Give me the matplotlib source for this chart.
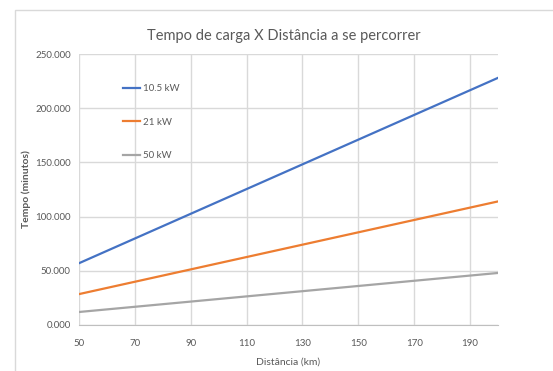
import numpy as np
import matplotlib
matplotlib.use("Agg")
import matplotlib.pyplot as plt
from matplotlib.ticker import FuncFormatter
from matplotlib.patches import Rectangle

# Dados (distância em km, tempo em minutos)
distancia = [50, 60, 70, 80, 90, 100, 110, 120, 130, 140, 150, 160, 170, 180, 190, 200]
t_10_5kw = [57.0, 68.4, 79.8, 91.2, 102.6, 114.0, 125.4, 136.8, 148.2, 159.6,
            171.0, 182.4, 193.8, 205.2, 216.6, 228.0]
t_21kw = [28.5, 34.2, 39.9, 45.6, 51.3, 57.0, 62.7, 68.4, 74.1, 79.8,
          85.5, 91.2, 96.9, 102.6, 108.3, 114.0]
t_50kw = [12.0, 14.4, 16.8, 19.2, 21.6, 24.0, 26.4, 28.8, 31.2, 33.6,
          36.0, 38.4, 40.8, 43.2, 45.6, 48.0]
x_ticks = [50, 70, 90, 110, 130, 150, 170, 190]
y_ticks = [0, 50, 100, 150, 200, 250]

plt.rcParams['font.family'] = ['Lato', 'DejaVu Sans']
cinza = '#595959'

fig = plt.figure(figsize=(5.53, 3.71), dpi=100)
# moldura do gráfico
fig.patches.append(Rectangle((15/553, -0.1), 1.2, 1 - 10/371 + 0.1, transform=fig.transFigure,
                             fill=False, edgecolor='#d9d9d9', linewidth=1))
ax = fig.add_axes([79/553, 1 - 325/371, (498 - 79)/553, (325 - 54)/371])

ax.plot(distancia, t_10_5kw, color='#4472c4', linewidth=1.6, label='10.5 kW')
ax.plot(distancia, t_21kw, color='#ed7d31', linewidth=1.6, label='21 kW')
ax.plot(distancia, t_50kw, color='#a5a5a5', linewidth=1.6, label='50 kW')

ax.set_xlim(50, 200)
ax.set_ylim(0, 250)
ax.set_xticks(x_ticks)
ax.set_yticks(y_ticks)
ax.yaxis.set_major_formatter(FuncFormatter(lambda v, p: f"{v:.3f}"))
ax.grid(True, color='#d9d9d9', linewidth=1)
ax.set_axisbelow(True)
for s in ['top', 'right', 'left']:
    ax.spines[s].set_visible(False)
ax.spines['bottom'].set_color('#bfbfbf')
ax.tick_params(length=0, labelsize=7, colors=cinza)
ax.tick_params(axis='x', pad=10)
ax.tick_params(axis='y', pad=6)

ax.set_xlabel('Distância (km)', fontsize=7.5, color=cinza, labelpad=7)
ax.set_ylabel('Tempo (minutos)', fontsize=7.5, color=cinza, fontweight='bold', labelpad=3)
ax.set_title('Tempo de carga X Distância a se percorrer', fontsize=10.5, color=cinza, pad=10, x=0.49)

leg = ax.legend(loc='upper left', bbox_to_anchor=(0.085, 0.92), frameon=False, fontsize=7,
                labelspacing=2.5, handlelength=1.7, handletextpad=0.3)
for t in leg.get_texts():
    t.set_color(cinza)

fig.savefig('out.png', dpi=100)
